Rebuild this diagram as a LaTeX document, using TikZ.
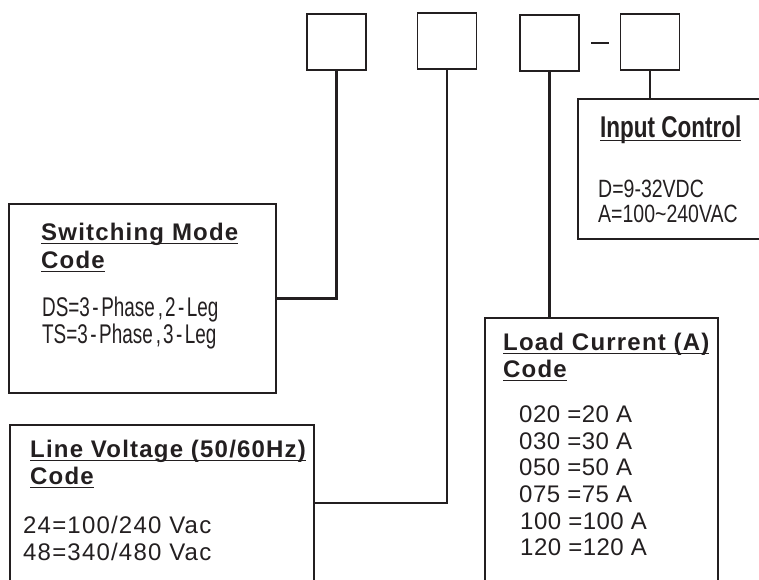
\documentclass[tikz,border=0pt]{standalone}
\usepackage{fontspec}
\setmainfont{Liberation Sans}
\newfontfamily\headfont[LetterSpace=5]{Liberation Sans Bold}
\newfontfamily\icfont[FakeStretch=0.75]{Liberation Sans Bold}
\newfontfamily\icvalfont[FakeStretch=0.78]{Liberation Sans}
\newfontfamily\swvalfont[FakeStretch=0.7]{Liberation Sans}
\newfontfamily\valfont[LetterSpace=5]{Liberation Sans}
\newfontfamily\lcvalfont[LetterSpace=2]{Liberation Sans}
\newsavebox\ulbox
\newcommand\myul[1]{\sbox\ulbox{#1}\rlap{\usebox\ulbox}\rule[-4pt]{\wd\ulbox}{1.3pt}}
\newcommand\hy{\kern2.5pt-\kern2.5pt}
\definecolor{ink}{HTML}{231F20}
\tikzset{
  smallbox/.style={draw=ink, line width=1.3pt, minimum width=59pt, minimum height=56pt, inner sep=0pt},
  bigbox/.style={draw=ink, line width=1.8pt, inner sep=0pt, anchor=north west},
  conn/.style={draw=ink, line width=2.2pt},
  txt/.style={anchor=base west, inner sep=0pt, text=ink},
  head/.style={txt, font=\headfont\fontsize{24}{28}\selectfont},
  swval/.style={txt, font=\swvalfont\fontsize{27}{30}\selectfont},
  icval/.style={txt, font=\icvalfont\fontsize{25}{30}\selectfont},
  lvval/.style={txt, font=\valfont\fontsize{24}{30}\selectfont},
  lcval/.style={txt, font=\lcvalfont\fontsize{24}{30}\selectfont},
}
\begin{document}
\begin{tikzpicture}[x=1pt, y=-1pt]
\useasboundingbox (0,0) rectangle (759,579);
\clip (0,0) rectangle (759,579);
% top code boxes
\node[smallbox] (s1) at (336.5,42) {};
\node[smallbox] (s2) at (447,41) {};
\node[smallbox] (s3) at (549.5,43) {};
\node[smallbox] (s4) at (650,42) {};
\coordinate (d1) at (591,43);
\coordinate (d2) at (609,43);
\draw[draw=ink, line width=2.8pt] (d1) -- (d2);
% description boxes
\node[bigbox, minimum width=267pt, minimum height=189pt] (sw) at (8,203) {};
\node[bigbox, minimum width=304pt, minimum height=156pt] (lv) at (9,424) {};
\node[bigbox, minimum width=233pt, minimum height=300pt] (lc) at (484,317) {};
\node[bigbox, minimum width=200pt, minimum height=140pt] (ic) at (577,98) {};
% connectors
\draw[conn] (s1.south) |- (sw.east);
\draw[conn] (s2.south) |- (lv.east);
\draw[conn] (s3.south) -- (s3.south |- lc.north);
\draw[conn] (s4.south) -- (s4.south |- ic.north);
% texts: switching mode
\node[head] (swh1) at (41,240) {\myul{Switching Mode}};
\node[head] (swh2) at (41,268) {\myul{Code}};
\node[swval] (sw1) at (42,316) {DS=3\hy Phase\kern3pt,\kern2pt2\hy Leg};
\node[swval] (sw2) at (42,343) {TS=3\hy Phase\kern3pt,\kern2pt3\hy Leg};
% line voltage
\node[head] (lvh1) at (30,457) {\myul{Line Voltage (50/60Hz)}};
\node[head] (lvh2) at (30,484) {\myul{Code}};
\node[lvval] (lv1) at (23,533) {24=100/240 Vac};
\node[lvval] (lv2) at (23,560) {48=340/480 Vac};
% load current
\node[head] (lch1) at (503,350) {\myul{Load Current (A)}};
\node[head] (lch2) at (503,377) {\myul{Code}};
\node[lcval] (lc1) at (519,422) {020 =20 A};
\node[lcval] (lc2) at (519,449) {030 =30 A};
\node[lcval] (lc3) at (519,475) {050 =50 A};
\node[lcval] (lc4) at (519,502) {075 =75 A};
\node[lcval] (lc5) at (520,529) {100 =100 A};
\node[lcval] (lc6) at (520,555) {120 =120 A};
% input control
\node[txt, font=\icfont\fontsize{30}{36}\selectfont] (ich) at (600,137) {\myul{Input Control}};
\node[icval] (ic1) at (598,197) {D=9-32VDC};
\node[icval] (ic2) at (598,222) {A=100\textasciitilde240VAC};
\end{tikzpicture}
\end{document}
